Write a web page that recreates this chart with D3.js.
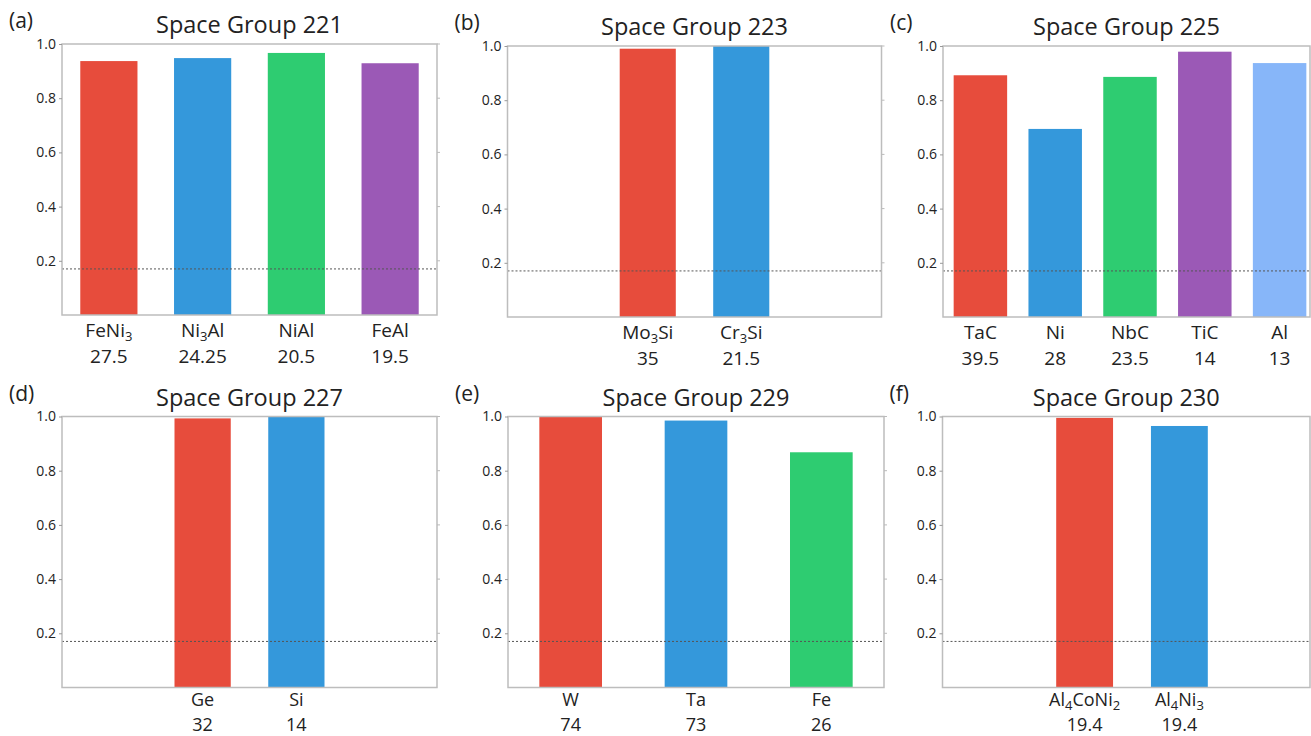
<!DOCTYPE html>
<html>
<head>
<meta charset="utf-8">
<script src="https://cdn.jsdelivr.net/npm/d3@7"></script>
<style>
  html, body { margin: 0; padding: 0; background: #fff; }
  svg { display: block; }
  text { font-family: "Open Sans", "Noto Sans", sans-serif; fill: #222; }
</style>
</head>
<body>
<svg id="chart" width="1311" height="736"></svg>
<script>
// ---- data ----
// Compound names ("_n" marks a subscript), energy labels and normalised scores per space group.
const sg221Names    = ["FeNi_3", "Ni_3Al", "NiAl", "FeAl"];
const sg221Energies = ["27.5", "24.25", "20.5", "19.5"];
const sg221Values   = [0.937, 0.948, 0.967, 0.929];

const sg223Names    = ["Mo_3Si", "Cr_3Si"];
const sg223Energies = ["35", "21.5"];
const sg223Values   = [0.99, 1.0];

const sg225Names    = ["TaC", "Ni", "NbC", "TiC", "Al"];
const sg225Energies = ["39.5", "28", "23.5", "14", "13"];
const sg225Values   = [0.892, 0.694, 0.886, 0.979, 0.937];

const sg227Names    = ["Ge", "Si"];
const sg227Energies = ["32", "14"];
const sg227Values   = [0.993, 1.0];

const sg229Names    = ["W", "Ta", "Fe"];
const sg229Energies = ["74", "73", "26"];
const sg229Values   = [1.0, 0.985, 0.868];

const sg230Names    = ["Al_4CoNi_2", "Al_4Ni_3"];
const sg230Energies = ["19.4", "19.4"];
const sg230Values   = [0.995, 0.965];

const barColors = ["#e74c3c", "#3498db", "#2ecc71", "#9b59b6", "#87b6f9"];
const threshold = 0.17;
const yTicks = [0.2, 0.4, 0.6, 0.8, 1.0];

// ---- layout ----
const panels = [
  { tag: "(a)", title: "Space Group 221", names: sg221Names, energies: sg221Energies, values: sg221Values,
    x: 62,  y: 44,  w: 375, slots: 4, offset: 0, frac: 0.61 },
  { tag: "(b)", title: "Space Group 223", names: sg223Names, energies: sg223Energies, values: sg223Values,
    x: 507.5, y: 46, w: 374, slots: 4, offset: 1, frac: 0.6 },
  { tag: "(c)", title: "Space Group 225", names: sg225Names, energies: sg225Energies, values: sg225Values,
    x: 943, y: 46, w: 374, slots: 5, offset: 0, frac: 0.715 },
  { tag: "(d)", title: "Space Group 227", names: sg227Names, energies: sg227Energies, values: sg227Values,
    x: 62,  y: 416.5, w: 375, slots: 4, offset: 1, frac: 0.6 },
  { tag: "(e)", title: "Space Group 229", names: sg229Names, energies: sg229Energies, values: sg229Values,
    x: 508, y: 416.5, w: 376, slots: 3, offset: 0, frac: 0.5 },
  { tag: "(f)", title: "Space Group 230", names: sg230Names, energies: sg230Energies, values: sg230Values,
    x: 942.5, y: 416.5, w: 379, slots: 4, offset: 1, frac: 0.6 }
];
const plotH = 271;
const svgW = 1311;
const svgH = 736;

const svg = d3.select("#chart");

// Write a formula such as "Al_4CoNi_2" as text with subscript tspans.
function formula(sel, str, subSize) {
  const parts = str.split(/(_\d+)/).filter(s => s.length);
  let lowered = false;
  parts.forEach(p => {
    if (p.startsWith("_")) {
      sel.append("tspan").attr("font-size", subSize).attr("dy", 4).text(p.slice(1));
      lowered = true;
    } else {
      sel.append("tspan").attr("dy", lowered ? -4 : 0).text(p);
      lowered = false;
    }
  });
}

panels.forEach(p => {
  const g = svg.append("g").attr("transform", `translate(${p.x},${p.y})`);
  const x = d3.scaleBand()
    .domain(d3.range(p.slots))
    .range([0, p.w])
    .paddingInner(1 - p.frac)
    .paddingOuter((1 - p.frac) / 2);
  const y = d3.scaleLinear().domain([0, 1]).range([plotH, 0]);
  const frameW = Math.min(p.w, svgW - 1 - p.x);

  // panel tag and title
  svg.append("text").attr("x", p.x - 53).attr("y", p.y - 16)
    .attr("font-size", 21).text(p.tag);
  svg.append("text").attr("x", p.x + frameW / 2).attr("y", p.y - 11)
    .attr("text-anchor", "middle").attr("font-size", 23.5).text(p.title);

  // bars
  g.selectAll("rect.bar").data(p.values).join("rect")
    .attr("class", "bar")
    .attr("x", (d, i) => x(i + p.offset))
    .attr("width", x.bandwidth())
    .attr("y", d => y(d))
    .attr("height", d => plotH - y(d))
    .attr("fill", (d, i) => barColors[i]);

  // threshold line
  g.append("line")
    .attr("x1", 0).attr("x2", frameW)
    .attr("y1", y(threshold)).attr("y2", y(threshold))
    .attr("stroke", "#555").attr("stroke-width", 1)
    .attr("stroke-dasharray", "2,2");

  // frame
  g.append("rect").attr("x", 0).attr("y", 0)
    .attr("width", frameW).attr("height", plotH)
    .attr("fill", "none").attr("stroke", "#bdbdbd").attr("stroke-width", 1.5);

  // y axis
  const yAxis = d3.axisLeft(y).tickValues(yTicks).tickFormat(d3.format(".1f"))
    .tickSize(3).tickPadding(3);
  const ya = g.append("g").call(yAxis);
  ya.select(".domain").remove();
  ya.selectAll(".tick line").attr("stroke", "#999");
  ya.selectAll(".tick text").attr("font-size", 14).attr("fill", "#333")
    .attr("font-family", "\"Open Sans\", sans-serif");

  // right-side ticks
  if (frameW === p.w) {
    g.append("g").selectAll("line").data(yTicks).join("line")
      .attr("x1", p.w).attr("x2", p.w + 3)
      .attr("y1", d => y(d)).attr("y2", d => y(d))
      .attr("stroke", "#bbb");
  }

  // category labels: formula and energy (bottom row kept inside the page)
  const bottomRow = p.y + plotH + 48 > svgH - 6;
  const labelSize = bottomRow ? 18 : 19;
  const energyY = bottomRow ? svgH - 5.5 - p.y : plotH + 48;
  const nameY = bottomRow ? energyY - 25 : plotH + 22;
  p.names.forEach((n, i) => {
    const cx = x(i + p.offset) + x.bandwidth() / 2;
    const t = g.append("text").attr("x", cx).attr("y", nameY)
      .attr("text-anchor", "middle").attr("font-size", labelSize);
    formula(t, n, 13);
    g.append("text").attr("x", cx).attr("y", energyY)
      .attr("text-anchor", "middle").attr("font-size", labelSize).text(p.energies[i]);
  });
});
</script>
</body>
</html>
